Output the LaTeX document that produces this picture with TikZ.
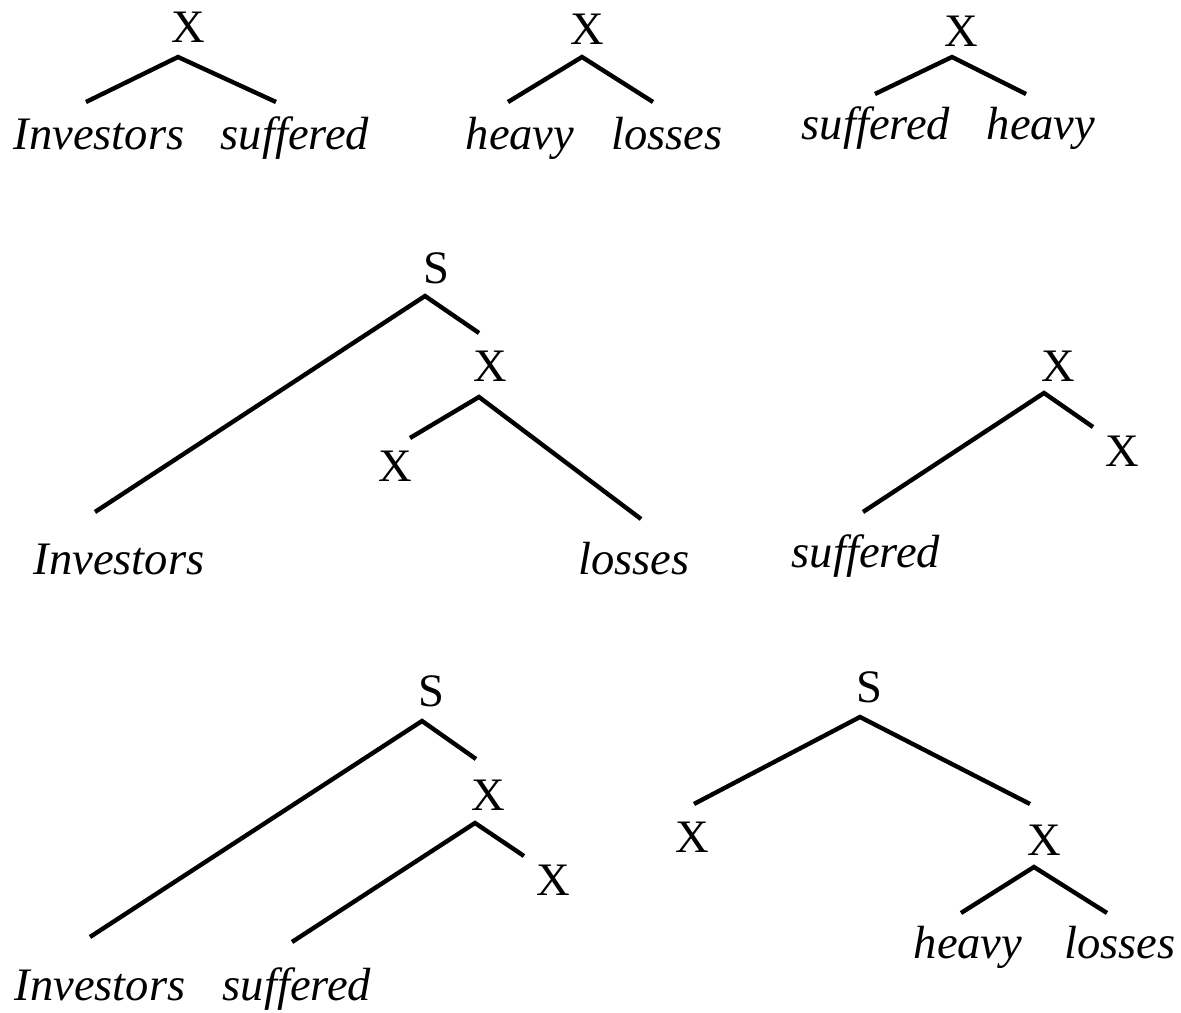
\documentclass[tikz,border=0pt]{standalone}
\usepackage{fontspec}
\setmainfont{Liberation Serif}
\usetikzlibrary{calc}

\begin{document}
\begin{tikzpicture}[x=0.02cm, y=-0.02cm, font=\fontsize{26.5}{30}\selectfont,
  cat/.style={anchor=base, inner sep=0pt},
  word/.style={cat, font=\fontsize{26.5}{30}\selectfont\itshape},
  br/.style={line width=2.5pt}]
\useasboundingbox (0,0) rectangle (1181,1013);
% row 1: three small trees
\node[cat] (ax) at (188,43) {X};
\node[word] (ainv) at (99,150) {Investors};
\node[word] (asuf) at (295,150) {suffered};
\draw[br] ($(ainv.base)+(-13,-48)$) -- ($(ax.base)+(-10,14)$) -- ($(asuf.base)+(-19,-48)$);
\node[cat] (bx) at (587,45) {X};
\node[word] (bhea) at (520,150) {heavy};
\node[word] (blos) at (667,150) {losses};
\draw[br] ($(bhea.base)+(-12,-48)$) -- ($(bx.base)+(-5,12)$) -- ($(blos.base)+(-14,-48)$);
\node[cat] (cx) at (961,47) {X};
\node[word] (csuf) at (876,140) {suffered};
\node[word] (chea) at (1041,140) {heavy};
\draw[br] ($(csuf.base)+(-1,-46)$) -- ($(cx.base)+(-9,10)$) -- ($(chea.base)+(-15,-46)$);
% row 2
\node[cat] (ds) at (436,284) {S};
\node[cat] (dx) at (490,382) {X};
\node[cat] (dxl) at (395,482) {X};
\node[word] (dinv) at (119,575) {Investors};
\node[word] (dlos) at (634,575) {losses};
\draw[br] ($(dinv.base)+(-24,-63)$) -- ($(ds.base)+(-11,12)$) -- ($(dx.base)+(-11,-49)$);
\draw[br] ($(dxl.base)+(15,-44)$) -- ($(dx.base)+(-11,15)$) -- ($(dlos.base)+(7,-56)$);
\node[cat] (ex) at (1058,382) {X};
\node[cat] (exr) at (1122,467) {X};
\node[word] (esuf) at (866,568) {suffered};
\draw[br] ($(esuf.base)+(-3,-56)$) -- ($(ex.base)+(-14,11)$) -- ($(exr.base)+(-29,-40)$);
% row 3
\node[cat] (fs) at (431,706) {S};
\node[cat] (fx) at (488,810) {X};
\node[cat] (fxr) at (553,895) {X};
\node[word] (finv) at (100,1000) {Investors};
\node[word] (fsuf) at (297,1000) {suffered};
\draw[br] ($(finv.base)+(-10,-63)$) -- ($(fs.base)+(-9,15)$) -- ($(fx.base)+(-12,-51)$);
\draw[br] ($(fsuf.base)+(-5,-58)$) -- ($(fx.base)+(-13,13)$) -- ($(fxr.base)+(-29,-39)$);
\node[cat] (gs) at (869,703) {S};
\node[cat] (gxl) at (692,852) {X};
\node[cat] (gx) at (1044,855) {X};
\node[word] (ghea) at (968,958) {heavy};
\node[word] (glos) at (1120,958) {losses};
\draw[br] ($(gxl.base)+(2,-48)$) -- ($(gs.base)+(-9,14)$) -- ($(gx.base)+(-14,-51)$);
\draw[br] ($(ghea.base)+(-7,-45)$) -- ($(gx.base)+(-10,12)$) -- ($(glos.base)+(-13,-45)$);
\end{tikzpicture}
\end{document}
